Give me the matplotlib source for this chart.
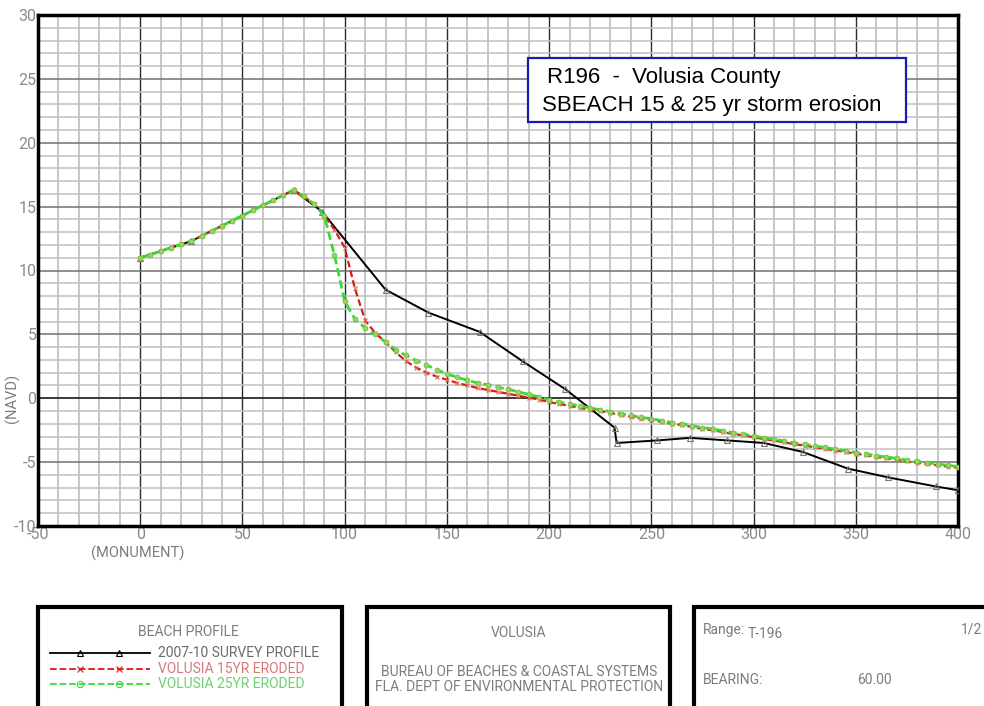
import numpy as np
import matplotlib
matplotlib.use("Agg")
import matplotlib.pyplot as plt
from matplotlib.patches import Rectangle
from matplotlib.lines import Line2D

plt.rcParams['axes.unicode_minus'] = False

# survey profile (2007-10)
survey_x = [0, 25, 75, 89, 120, 141, 166, 187, 208, 232, 233, 253, 269, 287, 305, 324, 346, 366, 389, 400]
survey_y = [11.0, 12.3, 16.3, 14.6, 8.5, 6.7, 5.2, 2.9, 0.7, -2.3, -3.5, -3.3, -3.1, -3.3, -3.5,
            -4.2, -5.5, -6.2, -6.9, -7.2]

# SBEACH eroded profiles, stations every 5 ft
ero_x = np.arange(0, 405, 5)
ero15_y = [11.0, 11.25, 11.5, 11.8, 12.05, 12.3, 12.7, 13.1, 13.5, 13.9, 14.3, 14.7, 15.1, 15.5, 15.9, 16.3,
           15.8, 15.2, 14.3, 13.2, 11.8, 8.6, 6.1, 5.1, 4.4, 3.6, 2.9, 2.4, 2.0, 1.7, 1.45, 1.2, 1.0, 0.8,
           0.65, 0.5, 0.35, 0.2, 0.05, -0.1, -0.3, -0.45, -0.6, -0.75, -0.9, -1.0, -1.15, -1.3, -1.45,
           -1.6, -1.7, -1.85, -2.0, -2.1, -2.25, -2.4, -2.5, -2.65, -2.8, -2.9, -3.05, -3.2, -3.3, -3.45,
           -3.6, -3.7, -3.85, -3.95, -4.1, -4.2, -4.35, -4.45, -4.6, -4.7, -4.8, -4.95, -5.05, -5.15,
           -5.25, -5.35, -5.45]
ero25_y = [11.0, 11.25, 11.5, 11.8, 12.05, 12.3, 12.7, 13.1, 13.5, 13.9, 14.3, 14.7, 15.1, 15.5, 15.9, 16.3,
           15.8, 15.2, 14.3, 11.2, 7.6, 6.2, 5.5, 5.0, 4.4, 3.8, 3.35, 2.95, 2.6, 2.25, 1.9, 1.65, 1.4, 1.2,
           1.05, 0.85, 0.7, 0.5, 0.3, 0.1, -0.1, -0.3, -0.45, -0.6, -0.75, -0.9, -1.05, -1.2, -1.35,
           -1.5, -1.6, -1.75, -1.9, -2.0, -2.15, -2.3, -2.4, -2.55, -2.7, -2.8, -2.95, -3.1, -3.2, -3.35,
           -3.5, -3.6, -3.75, -3.85, -4.0, -4.1, -4.25, -4.35, -4.5, -4.6, -4.7, -4.85, -4.95, -5.05,
           -5.15, -5.25, -5.35]

x_ticks = [-50, 0, 50, 100, 150, 200, 250, 300, 350, 400]
y_ticks = [-10, -5, 0, 5, 10, 15, 20, 25, 30]

cad = dict(family='Roboto')
gray = '#7c7c7c'
fs = 10

fig = plt.figure(figsize=(9.84, 7.06), dpi=100)
ax = fig.add_axes([38 / 984, 180 / 706, 920 / 984, 511 / 706])

# grid like the CAD sheet
for xv in range(-50, 401, 10):
    major = xv % 50 == 0
    ax.axvline(xv, color='#2a2a2a' if major else '#b8b8b8', lw=1.0 if major else 1.1, zorder=1)
for yv in range(-10, 31):
    if yv == 0:
        c, w = '#2a2a2a', 1.3
    elif yv % 5 == 0:
        c, w = '#707070', 1.1
    else:
        c, w = '#c0c0c0', 1.1
    ax.axhline(yv, color=c, lw=w, zorder=1)

ax.plot(survey_x, survey_y, color='black', lw=1.4, marker='^', ms=5, mfc='none', mec='#777777',
        mew=0.8, zorder=3)
ax.plot(ero_x, ero15_y, color='#e01818', lw=1.6, ls=(0, (3, 1.5)), marker='x', ms=3.5,
        mec='#e07050', mew=0.8, zorder=4)
ax.plot(ero_x, ero25_y, color='#33dd33', lw=2.0, ls=(0, (3, 1.5)), marker='o', ms=3.5,
        mfc='#a0d060', mec='#70c040', mew=0.6, zorder=5)

ax.set_xlim(-50, 400)
ax.set_ylim(-10, 30)
ax.set_xticks(x_ticks)
ax.set_yticks(y_ticks)
ax.tick_params(length=0, labelsize=11.5, labelcolor='#8a8a8a', pad=1)
for lab in ax.get_xticklabels() + ax.get_yticklabels():
    lab.set_family('Roboto')
for s in ax.spines.values():
    s.set_linewidth(2.5)

# overlay in pixel coordinates for the annotations and title block
ov = fig.add_axes([0, 0, 1, 1], facecolor='none')
ov.set_xlim(0, 984)
ov.set_ylim(706, 0)
ov.axis('off')

ov.text(12, 398, '(NAVD)', rotation=90, ha='center', va='center', color=gray, fontsize=10.5, **cad)
ov.text(138, 553, '(MONUMENT)', ha='center', va='center', color=gray, fontsize=10.5, **cad)

ov.add_patch(Rectangle((528, 58), 378, 64, fc='white', ec='#1a1ab4', lw=1.6, zorder=5))
ov.text(547, 78, 'R196  -  Volusia County', ha='left', va='center', fontsize=16,
        family='Liberation Sans', zorder=6)
ov.text(542, 105, 'SBEACH 15 & 25 yr storm erosion', ha='left', va='center', fontsize=16,
        family='Liberation Sans', zorder=6)

# title block boxes
for x0, x1 in [(38, 342), (367, 670), (694, 1000)]:
    ov.add_patch(Rectangle((x0, 607), x1 - x0, 120, fc='white', ec='black', lw=3, clip_on=False))

ov.text(188, 632, 'BEACH PROFILE', ha='center', va='center', color=gray, fontsize=fs, **cad)
legend_rows = [
    (653, 'black', '-', '^', '2007-10 SURVEY PROFILE', '#6a6a6a'),
    (669, '#e01818', '--', 'x', 'VOLUSIA 15YR ERODED', '#d27a7a'),
    (684, '#33dd33', '--', 'o', 'VOLUSIA 25YR ERODED', '#6fcf6f'),
]
for yy, c, ls, mk, label, tc in legend_rows:
    ov.add_line(Line2D([50, 150], [yy, yy], color=c, lw=1.3, ls=ls))
    ov.add_line(Line2D([80, 119], [yy, yy], ls='none', marker=mk, ms=4.5, mfc='none', mec=c, mew=0.8))
    ov.text(158, yy, label, ha='left', va='center', color=tc, fontsize=fs, **cad)

ov.text(519, 633, 'VOLUSIA', ha='center', va='center', color=gray, fontsize=fs, **cad)
ov.text(519, 672, 'BUREAU OF BEACHES & COASTAL SYSTEMS', ha='center', va='center', color=gray,
        fontsize=fs, **cad)
ov.text(519, 687, 'FLA. DEPT OF ENVIRONMENTAL PROTECTION', ha='center', va='center', color=gray,
        fontsize=fs, **cad)

ov.text(703, 630, 'Range:', ha='left', va='center', color=gray, fontsize=fs, **cad)
ov.text(748, 634, 'T-196', ha='left', va='center', color=gray, fontsize=fs, **cad)
ov.text(982, 630, '1/2', ha='right', va='center', color=gray, fontsize=fs, **cad)
ov.text(703, 680, 'BEARING:', ha='left', va='center', color=gray, fontsize=fs, **cad)
ov.text(857, 680, '60.00', ha='left', va='center', color=gray, fontsize=fs, **cad)

fig.savefig('out.png', dpi=100, facecolor='white')
